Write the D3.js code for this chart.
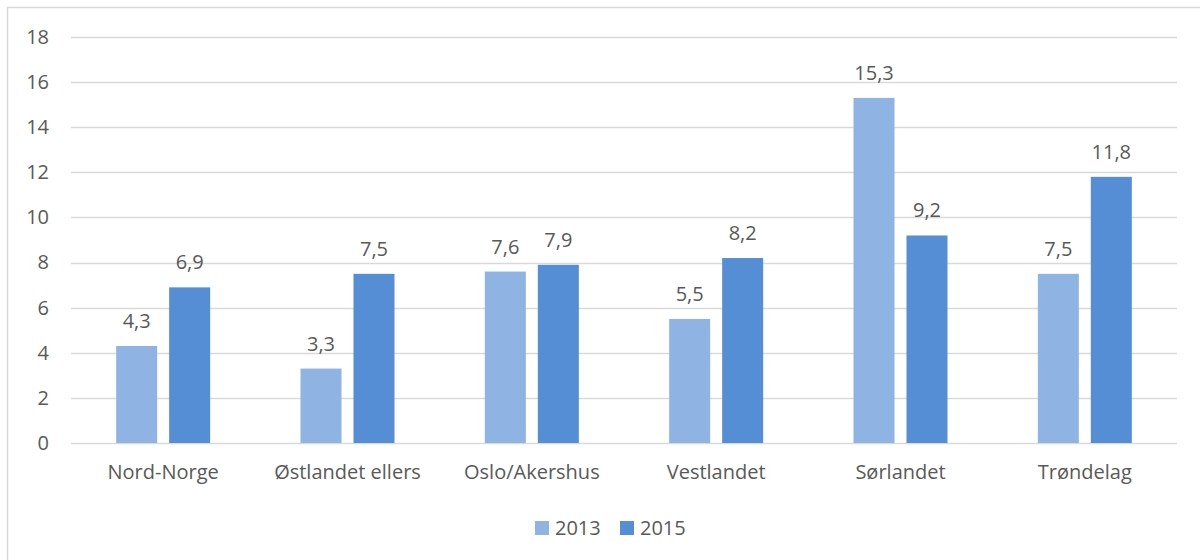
<!DOCTYPE html>
<html>
<head>
<meta charset="utf-8">
<script src="https://cdn.jsdelivr.net/npm/d3@7"></script>
<style>
  body { margin: 0; background: #fff; }
  svg { font-family: "Open Sans", "Noto Sans", sans-serif; }
</style>
</head>
<body>
<div id="chart"></div>
<script>
// data
const regions = ["Nord-Norge", "Østlandet ellers", "Oslo/Akershus", "Vestlandet", "Sørlandet", "Trøndelag"]
const years = ["2013", "2015"]
const values2013 = [4.3, 3.3, 7.6, 5.5, 15.3, 7.5]
const values2015 = [6.9, 7.5, 7.9, 8.2, 9.2, 11.8]
const yTicks = [0, 2, 4, 6, 8, 10, 12, 14, 16, 18]

const colors = {"2013": "#8FB4E3", "2015": "#558ED5"}
const textColor = "#595959"

const rows = regions.map((r, i) => ({region: r, "2013": values2013[i], "2015": values2015[i]}))

const width = 1200
const height = 560
const plot = {left: 71, right: 1177, top: 37, bottom: 443}

const svg = d3.select("#chart")
  .append("svg")
  .attr("width", width)
  .attr("height", height)

// chart border
svg.append("rect")
  .attr("x", 7.5)
  .attr("y", 7.5)
  .attr("width", 1200)
  .attr("height", 560)
  .attr("fill", "none")
  .attr("stroke", "#d9d9d9")
  .attr("stroke-width", 1.5)

// scales
const xScale = d3.scaleBand()
  .domain(regions)
  .range([plot.left, plot.right])

const xInner = d3.scaleBand()
  .domain(years)
  .range([(xScale.bandwidth() - 94) / 2, (xScale.bandwidth() + 94) / 2])
  .paddingInner(0.226)

const yScale = d3.scaleLinear()
  .domain([0, 18])
  .range([plot.bottom, plot.top])

// gridlines
svg.append("g")
  .selectAll("line")
  .data(yTicks)
  .join("line")
  .attr("x1", plot.left)
  .attr("x2", plot.right)
  .attr("y1", d => Math.round(yScale(d)) + 0.5)
  .attr("y2", d => Math.round(yScale(d)) + 0.5)
  .attr("stroke", "#d9d9d9")
  .attr("stroke-width", 1.5)

// y axis labels
const yAxis = d3.axisLeft(yScale)
  .tickValues(yTicks)
  .tickSize(0)
  .tickPadding(22)

const yG = svg.append("g")
  .attr("transform", `translate(${plot.left}, 0)`)
  .call(yAxis)
yG.select(".domain").remove()
yG.selectAll("text")
  .attr("font-size", "20px")
  .attr("font-family", "Open Sans")
  .attr("fill", textColor)

// x axis labels
const xAxis = d3.axisBottom(xScale).tickSize(0).tickPadding(22)
const xG = svg.append("g")
  .attr("transform", `translate(0, ${plot.bottom})`)
  .call(xAxis)
xG.select(".domain").remove()
xG.selectAll("text")
  .attr("font-size", "20px")
  .attr("font-family", "Open Sans")
  .attr("fill", textColor)

// bars
const groups = svg.append("g")
  .selectAll("g")
  .data(rows)
  .join("g")
  .attr("transform", d => `translate(${xScale(d.region)}, 0)`)

const barData = d => years.map(y => ({year: y, value: d[y]}))

groups.selectAll("rect")
  .data(barData)
  .join("rect")
  .attr("x", d => xInner(d.year))
  .attr("width", xInner.bandwidth())
  .attr("y", d => yScale(d.value))
  .attr("height", d => yScale(0) - yScale(d.value))
  .attr("fill", d => colors[d.year])

const fmt = v => d3.format(".1f")(v).replace(".", ",")

groups.selectAll("text")
  .data(barData)
  .join("text")
  .attr("x", d => xInner(d.year) + xInner.bandwidth() / 2)
  .attr("y", d => yScale(d.value) - 18)
  .attr("text-anchor", "middle")
  .attr("font-size", "20px")
  .attr("fill", textColor)
  .text(d => fmt(d.value))

// legend
const legend = svg.append("g")
  .selectAll("g")
  .data(years)
  .join("g")
  .attr("transform", (d, i) => `translate(${535 + i * 85}, 521)`)

legend.append("rect")
  .attr("width", 14)
  .attr("height", 14)
  .attr("fill", d => colors[d])

legend.append("text")
  .attr("x", 20)
  .attr("y", 14)
  .attr("font-size", "20px")
  .attr("fill", textColor)
  .text(d => d)
</script>
</body>
</html>
